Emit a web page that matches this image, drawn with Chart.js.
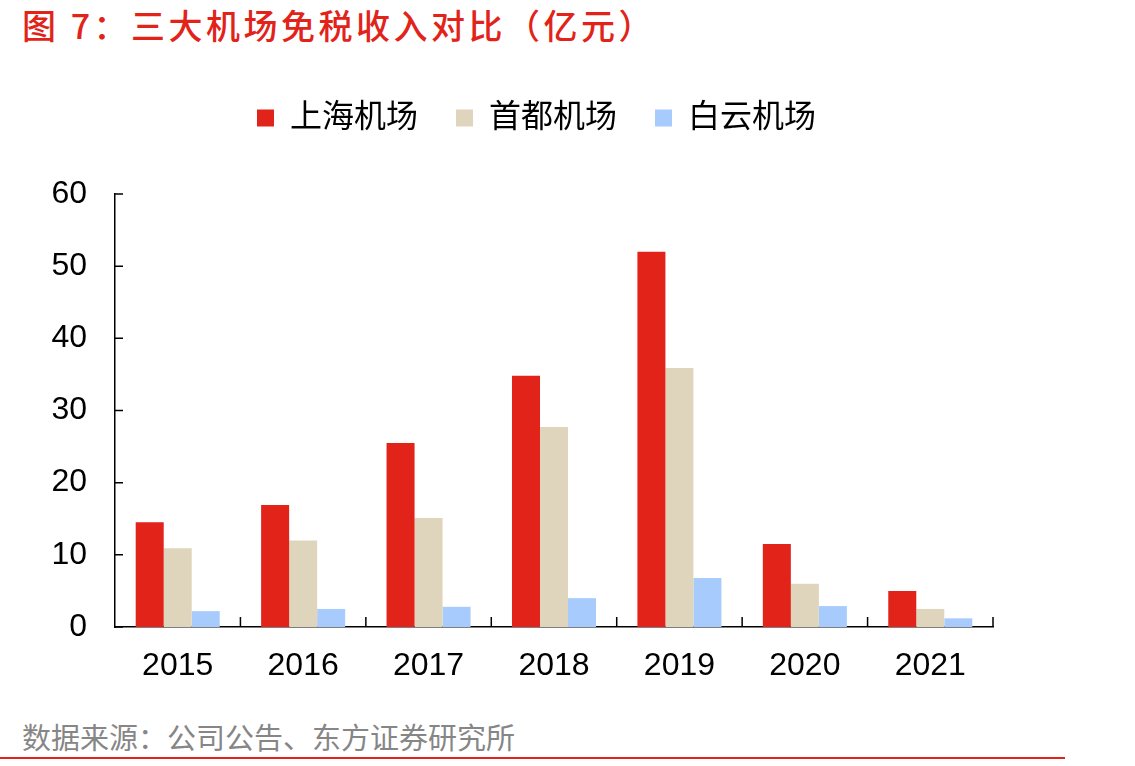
<!DOCTYPE html>
<html>
<head>
<meta charset="utf-8">
<script src="https://cdn.jsdelivr.net/npm/chart.js@4"></script>
<style>
    body { margin: 0; width: 1135px; height: 766px; background: #fff; position: relative; overflow: hidden; }
    #title { position: absolute; left: 22px; top: 0; font: 500 34px 'Noto Sans CJK SC', sans-serif; letter-spacing: 3.5px; color: #e2231a; white-space: nowrap; }
    #box { position: absolute; left: 0; top: 54px; width: 1135px; height: 646px; }
    #source { position: absolute; left: 22px; top: 715px; font: 29px 'Noto Sans CJK SC', sans-serif; color: #868686; white-space: nowrap; }
    #rule { position: absolute; left: 0; top: 757px; width: 1065px; height: 2px; background: #e2231a; }
</style>
</head>
<body>
<div id="title">图 7：三大机场免税收入对比（亿元）</div>
<div id="box"><canvas id="airports"></canvas></div>
<div id="source">数据来源：公司公告、东方证券研究所</div>
<div id="rule"></div>
<script>
// values, 亿元
const years = ['2015', '2016', '2017', '2018', '2019', '2020', '2021'];
const shanghai = [14.5, 16.9, 25.5, 34.8, 52.0, 11.5, 5.0];
const beijing = [10.9, 12.0, 15.1, 27.7, 35.9, 6.0, 2.5];
const baiyun = [2.2, 2.5, 2.8, 4.0, 6.8, 2.9, 1.2];
const yTicks = [0, 10, 20, 30, 40, 50, 60];

const font = "'Liberation Sans', 'Noto Sans CJK SC', sans-serif";

// small ticks pointing into the plot, like the original
const innerTicks = {
    id: 'innerTicks',
    afterInit(chart) {
        // leave a wider gap below the legend
        const fit = chart.legend.fit;
        chart.legend.fit = function () {
            fit.call(this);
            this.height += 50;
        };
    },
    afterLayout(chart) {
        // legend sits a bit right of the canvas centre
        chart.legend.left += 40;
        chart.legend.right += 40;
    },
    afterDraw(chart) {
        const ctx = chart.ctx;
        const x = chart.scales.x, y = chart.scales.y;
        ctx.save();
        ctx.strokeStyle = '#000';
        ctx.lineWidth = 1.5;
        ctx.beginPath();
        yTicks.forEach(v => {
            const py = y.getPixelForValue(v);
            ctx.moveTo(x.left, py);
            ctx.lineTo(x.left + 8, py);
        });
        const step = x.width / years.length;
        for (let i = 1; i <= years.length; i++) {
            const px = x.getPixelForValue(i - 1) + step / 2;
            ctx.moveTo(px, y.bottom);
            ctx.lineTo(px, y.bottom - 10);
        }
        ctx.stroke();
        ctx.restore();
    }
};

new Chart(document.getElementById('airports'), {
    type: 'bar',
    data: {
        labels: years,
        datasets: [
            { label: '上海机场', data: shanghai, backgroundColor: '#e2231a' },
            { label: '首都机场', data: beijing, backgroundColor: '#dfd5bd' },
            { label: '白云机场', data: baiyun, backgroundColor: '#a8cbfe' }
        ]
    },
    options: {
        responsive: true,
        maintainAspectRatio: false,
        animation: false,
        datasets: { bar: { barPercentage: 1, categoryPercentage: 0.67 } },
        layout: { padding: { top: 10, right: 142, left: 0, bottom: 0 } },
        plugins: {
            legend: {
                labels: {
                    font: { family: font, size: 32 },
                    color: '#000',
                    boxWidth: 17,
                    boxHeight: 17,
                    padding: 38
                }
            },
            tooltip: { enabled: false }
        },
        scales: {
            x: {
                grid: { display: false, drawTicks: false },
                border: { color: '#000', width: 1.5 },
                ticks: { font: { family: font, size: 32 }, color: '#000', padding: 20 },
                afterFit(s) { s.height = 73; }
            },
            y: {
                min: 0,
                max: 60,
                grid: { display: false, drawTicks: false },
                border: { color: '#000', width: 1.5 },
                ticks: { stepSize: 10, font: { family: font, size: 32 }, color: '#000', padding: 28 },
                afterFit(s) { s.width = 115; }
            }
        }
    },
    plugins: [innerTicks]
});
</script>
</body>
</html>
